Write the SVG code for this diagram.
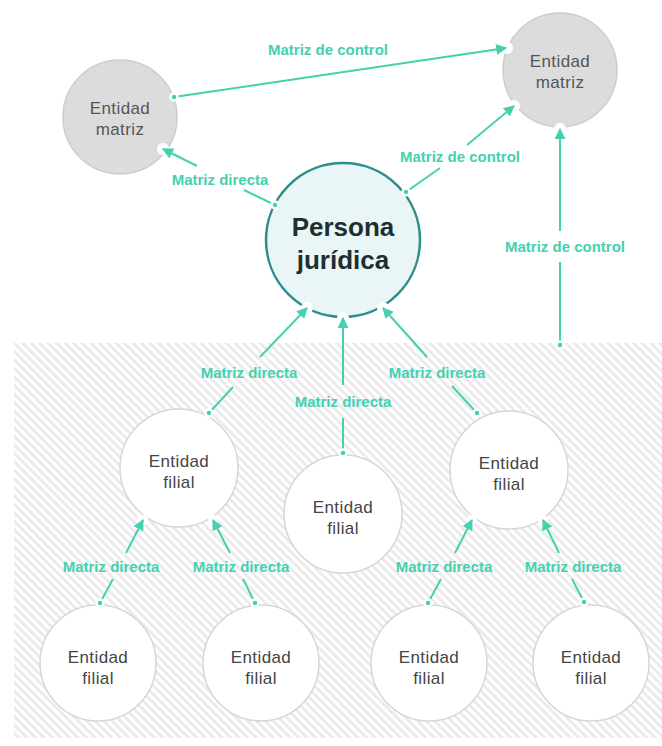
<svg xmlns="http://www.w3.org/2000/svg" width="662" height="746" viewBox="0 0 662 746">
<defs>
<pattern id="hatch" patternUnits="userSpaceOnUse" width="6" height="6" patternTransform="rotate(-45)">
<line x1="1.5" y1="0" x2="1.5" y2="6" stroke="#e9e9e9" stroke-width="2.6"/>
</pattern>
<marker id="arr" viewBox="0 0 10 10" refX="9" refY="5" markerWidth="11" markerHeight="11" markerUnits="userSpaceOnUse" orient="auto">
<path d="M0,0 L10,5 L0,10 z" fill="#45d0b0"/>
</marker>
<style>
.lbl{font-family:"Liberation Sans",Arial,sans-serif;font-size:15px;font-weight:bold;fill:#45d0b0;text-anchor:middle}
.ln{stroke:#45d0b0;stroke-width:2;fill:none}
.dot{fill:#45d0b0;stroke:#fff;stroke-width:2.5}
.halo{fill:#fff}
.gray circle{fill:#dcdcdc;stroke:#cdcdcd;stroke-width:1.5}
.gray text,.fil text{font-family:"Liberation Sans",Arial,sans-serif;font-size:17px;fill:#555;text-anchor:middle;letter-spacing:0.4px}
.fil circle{fill:#fff;stroke:#d6d6d6;stroke-width:1.5}
.fil text{fill:#444}
</style>
</defs>
<rect width="662" height="746" fill="#fff"/>
<rect x="14" y="343" width="648" height="395" fill="url(#hatch)"/>

<g id="matriz-left" class="gray">
<circle cx="120" cy="117" r="57"/>
<text x="120" y="114">Entidad</text>
<text x="120" y="135">matriz</text>
</g>
<g id="matriz-right" class="gray">
<circle cx="560" cy="70" r="57"/>
<text x="560" y="67">Entidad</text>
<text x="560" y="88">matriz</text>
</g>
<g id="persona">
<circle cx="343" cy="240" r="77" fill="#eaf5f5" stroke="#2e8c8c" stroke-width="2.5"/>
<text x="343" y="236" font-family="Liberation Sans,Arial,sans-serif" font-size="26" font-weight="bold" fill="#1d2f30" text-anchor="middle">Persona</text>
<text x="343" y="269" font-family="Liberation Sans,Arial,sans-serif" font-size="26" font-weight="bold" fill="#1d2f30" text-anchor="middle">jurídica</text>
</g>
<g id="filial-1" class="fil">
<circle cx="179" cy="468" r="59"/>
<text x="179" y="467">Entidad</text>
<text x="179" y="488">filial</text>
</g>
<g id="filial-2" class="fil">
<circle cx="343" cy="514" r="59"/>
<text x="343" y="513">Entidad</text>
<text x="343" y="534">filial</text>
</g>
<g id="filial-3" class="fil">
<circle cx="509" cy="470" r="59"/>
<text x="509" y="469">Entidad</text>
<text x="509" y="490">filial</text>
</g>
<g id="filial-4" class="fil">
<circle cx="98" cy="663" r="58"/>
<text x="98" y="663">Entidad</text>
<text x="98" y="684">filial</text>
</g>
<g id="filial-5" class="fil">
<circle cx="261" cy="663" r="58"/>
<text x="261" y="663">Entidad</text>
<text x="261" y="684">filial</text>
</g>
<g id="filial-6" class="fil">
<circle cx="429" cy="663" r="58"/>
<text x="429" y="663">Entidad</text>
<text x="429" y="684">filial</text>
</g>
<g id="filial-7" class="fil">
<circle cx="591" cy="663" r="58"/>
<text x="591" y="663">Entidad</text>
<text x="591" y="684">filial</text>
</g>

<g id="connectors">
<circle class="halo" cx="507" cy="48" r="6"/>
<circle class="halo" cx="163" cy="149" r="6"/>
<circle class="halo" cx="514" cy="106" r="6"/>
<circle class="halo" cx="560" cy="129" r="6"/>
<circle class="halo" cx="307" cy="308" r="6"/>
<circle class="halo" cx="343" cy="318" r="6"/>
<circle class="halo" cx="383" cy="308" r="6"/>
<circle class="halo" cx="143" cy="520" r="5"/>
<circle class="halo" cx="213" cy="520" r="5"/>
<circle class="halo" cx="472" cy="520" r="5"/>
<circle class="halo" cx="543" cy="520" r="5"/>

<line class="ln" x1="174" y1="97" x2="506" y2="48" marker-end="url(#arr)"/>
<circle class="dot" cx="174" cy="97" r="3.5"/>
<text class="lbl" x="328" y="55">Matriz de control</text>

<line class="ln" x1="275" y1="205" x2="244" y2="190"/>
<line class="ln" x1="197" y1="166" x2="163" y2="149" marker-end="url(#arr)"/>
<circle class="dot" cx="275" cy="205" r="3.5"/>
<text class="lbl" x="220" y="185">Matriz directa</text>

<line class="ln" x1="406" y1="192" x2="440" y2="168"/>
<line class="ln" x1="467" y1="145" x2="514" y2="106" marker-end="url(#arr)"/>
<circle class="dot" cx="406" cy="192" r="3.5"/>
<text class="lbl" x="460" y="162">Matriz de control</text>

<line class="ln" x1="560" y1="345" x2="560" y2="262"/>
<line class="ln" x1="560" y1="231" x2="560" y2="129" marker-end="url(#arr)"/>
<circle class="dot" cx="560" cy="345" r="3.5"/>
<text class="lbl" x="565" y="252">Matriz de control</text>

<line class="ln" x1="209" y1="413" x2="233" y2="387"/>
<line class="ln" x1="260" y1="357" x2="307" y2="308" marker-end="url(#arr)"/>
<circle class="dot" cx="209" cy="413" r="3.5"/>
<text class="lbl" x="249" y="378">Matriz directa</text>

<line class="ln" x1="343" y1="453" x2="343" y2="418"/>
<line class="ln" x1="343" y1="385" x2="343" y2="318" marker-end="url(#arr)"/>
<circle class="dot" cx="343" cy="453" r="3.5"/>
<text class="lbl" x="343" y="407">Matriz directa</text>

<line class="ln" x1="477" y1="413" x2="452" y2="386"/>
<line class="ln" x1="427" y1="357" x2="383" y2="308" marker-end="url(#arr)"/>
<circle class="dot" cx="477" cy="413" r="3.5"/>
<text class="lbl" x="437" y="378">Matriz directa</text>

<line class="ln" x1="100" y1="603" x2="113" y2="579"/>
<line class="ln" x1="126" y1="553" x2="143" y2="520" marker-end="url(#arr)"/>
<circle class="dot" cx="100" cy="603" r="3.5"/>
<text class="lbl" x="111" y="572">Matriz directa</text>

<line class="ln" x1="255" y1="603" x2="243" y2="579"/>
<line class="ln" x1="230" y1="553" x2="213" y2="520" marker-end="url(#arr)"/>
<circle class="dot" cx="255" cy="603" r="3.5"/>
<text class="lbl" x="241" y="572">Matriz directa</text>

<line class="ln" x1="428" y1="603" x2="441" y2="579"/>
<line class="ln" x1="455" y1="553" x2="472" y2="520" marker-end="url(#arr)"/>
<circle class="dot" cx="428" cy="603" r="3.5"/>
<text class="lbl" x="444" y="572">Matriz directa</text>

<line class="ln" x1="584" y1="602" x2="572" y2="579"/>
<line class="ln" x1="559" y1="553" x2="543" y2="520" marker-end="url(#arr)"/>
<circle class="dot" cx="584" cy="602" r="3.5"/>
<text class="lbl" x="573" y="572">Matriz directa</text>
</g>
</svg>
